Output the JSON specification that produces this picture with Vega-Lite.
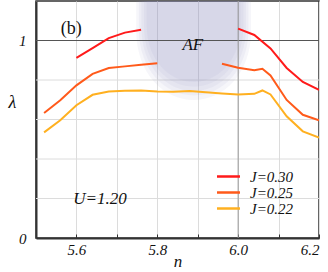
{
  "$schema": "https://vega.github.io/schema/vega-lite/v6.json",
  "width": 283,
  "height": 237,
  "autosize": {"type": "none"},
  "padding": {"left": 36, "top": 1, "right": 9, "bottom": 34},
  "background": "white",
  "config": {
    "view": {"stroke": "#333", "strokeWidth": 1.5},
    "font": "Liberation Serif"
  },
  "datasets": {
    "curves": [
      {"series": "J=0.30", "seg": "a", "n": 5.60, "lam": 0.912},
      {"series": "J=0.30", "seg": "a", "n": 5.64, "lam": 0.961},
      {"series": "J=0.30", "seg": "a", "n": 5.68, "lam": 1.012},
      {"series": "J=0.30", "seg": "a", "n": 5.72, "lam": 1.040},
      {"series": "J=0.30", "seg": "a", "n": 5.76, "lam": 1.054},
      {"series": "J=0.30", "seg": "b", "n": 6.00, "lam": 1.060},
      {"series": "J=0.30", "seg": "b", "n": 6.04, "lam": 1.028},
      {"series": "J=0.30", "seg": "b", "n": 6.08, "lam": 0.960},
      {"series": "J=0.30", "seg": "b", "n": 6.12, "lam": 0.861},
      {"series": "J=0.30", "seg": "b", "n": 6.16, "lam": 0.790},
      {"series": "J=0.30", "seg": "b", "n": 6.20, "lam": 0.750},
      {"series": "J=0.25", "seg": "a", "n": 5.52, "lam": 0.633},
      {"series": "J=0.25", "seg": "a", "n": 5.56, "lam": 0.697},
      {"series": "J=0.25", "seg": "a", "n": 5.60, "lam": 0.773},
      {"series": "J=0.25", "seg": "a", "n": 5.64, "lam": 0.831},
      {"series": "J=0.25", "seg": "a", "n": 5.68, "lam": 0.861},
      {"series": "J=0.25", "seg": "a", "n": 5.72, "lam": 0.869},
      {"series": "J=0.25", "seg": "a", "n": 5.76, "lam": 0.877},
      {"series": "J=0.25", "seg": "a", "n": 5.80, "lam": 0.885},
      {"series": "J=0.25", "seg": "b", "n": 5.96, "lam": 0.882},
      {"series": "J=0.25", "seg": "b", "n": 6.00, "lam": 0.862},
      {"series": "J=0.25", "seg": "b", "n": 6.04, "lam": 0.849},
      {"series": "J=0.25", "seg": "b", "n": 6.06, "lam": 0.857},
      {"series": "J=0.25", "seg": "b", "n": 6.08, "lam": 0.823},
      {"series": "J=0.25", "seg": "b", "n": 6.12, "lam": 0.699},
      {"series": "J=0.25", "seg": "b", "n": 6.16, "lam": 0.624},
      {"series": "J=0.25", "seg": "b", "n": 6.20, "lam": 0.596},
      {"series": "J=0.22", "seg": "a", "n": 5.52, "lam": 0.535},
      {"series": "J=0.22", "seg": "a", "n": 5.56, "lam": 0.596},
      {"series": "J=0.22", "seg": "a", "n": 5.60, "lam": 0.672},
      {"series": "J=0.22", "seg": "a", "n": 5.64, "lam": 0.725},
      {"series": "J=0.22", "seg": "a", "n": 5.68, "lam": 0.742},
      {"series": "J=0.22", "seg": "a", "n": 5.72, "lam": 0.746},
      {"series": "J=0.22", "seg": "a", "n": 5.76, "lam": 0.747},
      {"series": "J=0.22", "seg": "a", "n": 5.80, "lam": 0.742},
      {"series": "J=0.22", "seg": "a", "n": 5.84, "lam": 0.741},
      {"series": "J=0.22", "seg": "a", "n": 5.88, "lam": 0.744},
      {"series": "J=0.22", "seg": "a", "n": 5.92, "lam": 0.738},
      {"series": "J=0.22", "seg": "a", "n": 5.96, "lam": 0.732},
      {"series": "J=0.22", "seg": "a", "n": 6.00, "lam": 0.727},
      {"series": "J=0.22", "seg": "a", "n": 6.04, "lam": 0.730},
      {"series": "J=0.22", "seg": "a", "n": 6.06, "lam": 0.747},
      {"series": "J=0.22", "seg": "a", "n": 6.08, "lam": 0.727},
      {"series": "J=0.22", "seg": "a", "n": 6.12, "lam": 0.616},
      {"series": "J=0.22", "seg": "a", "n": 6.16, "lam": 0.540},
      {"series": "J=0.22", "seg": "a", "n": 6.20, "lam": 0.508}
    ],
    "blob": [{"n": 5.89, "lam": 1.2}],
    "plainLabels": [
      {"n": 5.587, "lam": 1.058, "text": "(b)"}
    ],
    "italicLabels": [
      {"n": 5.888, "lam": 0.977, "text": "AF"},
      {"n": 5.658, "lam": 0.195, "text": "U=1.20"}
    ],
    "hgrid": [{"lam": 0.2}, {"lam": 0.4}, {"lam": 0.6}, {"lam": 0.8}],
    "hrule": [{"lam": 1.0}],
    "vrule": [{"n": 6.0}]
  },
  "layer": [
    {
      "data": {"name": "hgrid"},
      "mark": {"type": "rule", "color": "#dcdcdc", "strokeWidth": 1},
      "encoding": {
        "y": {"field": "lam", "type": "quantitative", "scale": {"domain": [0, 1.2], "nice": false},
          "axis": {"values": [0, 1], "grid": false, "labelOverlap": false, "labelExpr": "datum.value < 0.5 ? '0' : '1'",
            "title": "λ", "titleAngle": 0, "titleX": -24, "titleY": 101, "titleAlign": "center", "titleBaseline": "middle",
            "titleFont": "Liberation Serif", "titleFontStyle": "italic", "titleFontWeight": "normal", "titleFontSize": 18, "titleColor": "#111",
            "labelFont": "Liberation Serif", "labelFontStyle": "italic", "labelFontSize": 15, "labelColor": "#111", "labelPadding": 10,
            "tickSize": 0, "domainColor": "#333", "domainWidth": 2}}
      }
    },
    {
      "data": {"name": "blob"},
      "mark": {"type": "point", "filled": true, "clip": true, "color": "#8a8ac0", "opacity": 0.08, "size": 17424, "shape": "M -0.87 -0.5 L 0.87 -0.5 L 0.87 0.45 C 0.87 1.1 0.45 1.5 0 1.5 C -0.45 1.5 -0.87 1.1 -0.87 0.45 Z"},
      "encoding": {
        "x": {"field": "n", "type": "quantitative", "scale": {"domain": [5.5, 6.2], "nice": false, "zero": false},
          "axis": {"values": [5.5, 5.6, 5.7, 5.8, 5.9, 6.0, 6.1, 6.2], "labelOverlap": false, "labelExpr": "(abs(datum.value*10 - round(datum.value*10)) < 0.01 && round(datum.value*10) % 2 == 0) ? format(datum.value, '.1f') : ''",
            "title": "n", "titleFont": "Liberation Serif", "titleFontStyle": "italic", "titleFontWeight": "normal", "titleFontSize": 17, "titleColor": "#111", "titlePadding": -4,
            "labelFont": "Liberation Serif", "labelFontStyle": "italic", "labelFontSize": 15, "labelColor": "#111", "labelPadding": 8,
            "gridColor": "#dcdcdc", "gridWidth": 1, "tickColor": "#333", "tickSize": -4, "tickWidth": 1, "domainColor": "#333", "domainWidth": 2}},
        "y": {"field": "lam", "type": "quantitative"}
      }
    },
    {
      "data": {"name": "blob"},
      "mark": {"type": "point", "filled": true, "clip": true, "color": "#8a8ac0", "opacity": 0.08, "size": 15876, "shape": "M -0.87 -0.5 L 0.87 -0.5 L 0.87 0.45 C 0.87 1.1 0.45 1.5 0 1.5 C -0.45 1.5 -0.87 1.1 -0.87 0.45 Z"},
      "encoding": {"x": {"field": "n", "type": "quantitative"}, "y": {"field": "lam", "type": "quantitative"}}
    },
    {
      "data": {"name": "blob"},
      "mark": {"type": "point", "filled": true, "clip": true, "color": "#8a8ac0", "opacity": 0.08, "size": 14400, "shape": "M -0.87 -0.5 L 0.87 -0.5 L 0.87 0.45 C 0.87 1.1 0.45 1.5 0 1.5 C -0.45 1.5 -0.87 1.1 -0.87 0.45 Z"},
      "encoding": {"x": {"field": "n", "type": "quantitative"}, "y": {"field": "lam", "type": "quantitative"}}
    },
    {
      "data": {"name": "blob"},
      "mark": {"type": "point", "filled": true, "clip": true, "color": "#8a8ac0", "opacity": 0.08, "size": 12996, "shape": "M -0.87 -0.5 L 0.87 -0.5 L 0.87 0.45 C 0.87 1.1 0.45 1.5 0 1.5 C -0.45 1.5 -0.87 1.1 -0.87 0.45 Z"},
      "encoding": {"x": {"field": "n", "type": "quantitative"}, "y": {"field": "lam", "type": "quantitative"}}
    },
    {
      "data": {"name": "blob"},
      "mark": {"type": "point", "filled": true, "clip": true, "color": "#8a8ac0", "opacity": 0.08, "size": 11664, "shape": "M -0.87 -0.5 L 0.87 -0.5 L 0.87 0.45 C 0.87 1.1 0.45 1.5 0 1.5 C -0.45 1.5 -0.87 1.1 -0.87 0.45 Z"},
      "encoding": {"x": {"field": "n", "type": "quantitative"}, "y": {"field": "lam", "type": "quantitative"}}
    },
    {
      "data": {"name": "hrule"},
      "mark": {"type": "rule", "color": "#555", "strokeWidth": 1},
      "encoding": {"y": {"field": "lam", "type": "quantitative"}}
    },
    {
      "data": {"name": "vrule"},
      "mark": {"type": "rule", "color": "#999", "strokeWidth": 1},
      "encoding": {"x": {"field": "n", "type": "quantitative"}}
    },
    {
      "data": {"name": "curves"},
      "mark": {"type": "line", "strokeWidth": 2, "clip": true},
      "encoding": {
        "x": {"field": "n", "type": "quantitative"},
        "y": {"field": "lam", "type": "quantitative"},
        "detail": {"field": "seg"},
        "color": {"field": "series", "type": "nominal",
          "scale": {"domain": ["J=0.30", "J=0.25", "J=0.22"], "range": ["#ff1a1a", "#ff5a1a", "#ffb020"]},
          "legend": {"title": null, "orient": "none", "legendX": 185, "legendY": 168, "padding": 0,
            "symbolType": "M -2 0 L 2 0", "symbolSize": 132, "symbolStrokeWidth": 2.5, "rowPadding": 0,
            "labelFont": "Liberation Serif", "labelFontStyle": "italic", "labelFontSize": 15, "labelColor": "#111", "labelOffset": 14}}
      }
    },
    {
      "data": {"name": "plainLabels"},
      "mark": {"type": "text", "font": "Liberation Serif", "fontSize": 18, "color": "#111", "align": "center", "baseline": "middle"},
      "encoding": {
        "x": {"field": "n", "type": "quantitative"},
        "y": {"field": "lam", "type": "quantitative"},
        "text": {"field": "text"}
      }
    },
    {
      "data": {"name": "italicLabels"},
      "mark": {"type": "text", "font": "Liberation Serif", "fontStyle": "italic", "fontSize": 17, "color": "#111", "align": "center", "baseline": "middle"},
      "encoding": {
        "x": {"field": "n", "type": "quantitative"},
        "y": {"field": "lam", "type": "quantitative"},
        "text": {"field": "text"}
      }
    }
  ]
}
